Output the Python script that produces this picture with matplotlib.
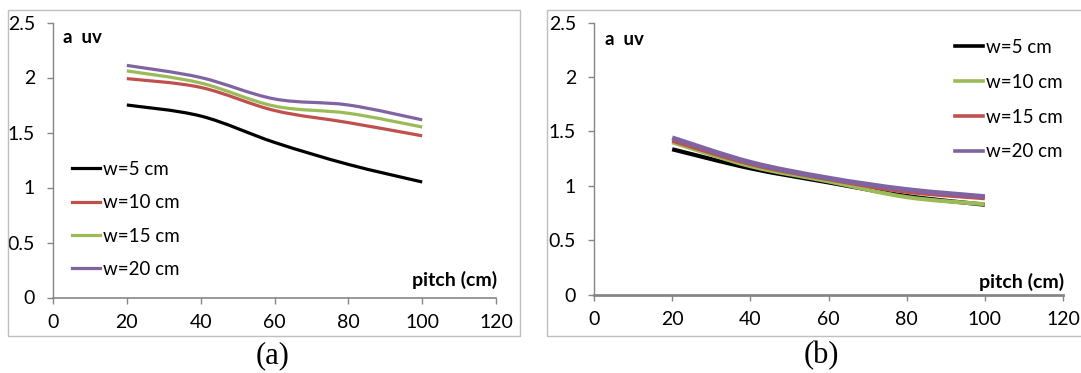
import numpy as np
import matplotlib
matplotlib.use("Agg")
import matplotlib.pyplot as plt
from matplotlib.path import Path
from matplotlib.patches import PathPatch, Rectangle
from matplotlib.lines import Line2D

# ---------------- data ----------------
pitch = [20, 40, 60, 80, 100]

labels_a = ["w=5 cm", "w=10 cm", "w=15 cm", "w=20 cm"]
a_w5 = [1.75, 1.65, 1.41, 1.21, 1.05]
a_w10 = [1.99, 1.91, 1.70, 1.59, 1.47]
a_w15 = [2.06, 1.95, 1.74, 1.675, 1.55]
a_w20 = [2.11, 2.00, 1.805, 1.75, 1.615]

labels_b = ["w=5 cm", "w=10 cm", "w=15 cm", "w=20 cm"]
b_w5 = [1.335, 1.16, 1.03, 0.905, 0.825]
b_w10 = [1.40, 1.18, 1.04, 0.895, 0.83]
b_w15 = [1.415, 1.20, 1.06, 0.945, 0.885]
b_w20 = [1.44, 1.215, 1.07, 0.965, 0.90]

x_ticks = [0, 20, 40, 60, 80, 100, 120]
y_ticks = [0, 0.5, 1, 1.5, 2, 2.5]
y_ticklabels = ["0", "0.5", "1", "1.5", "2", "2.5"]

RED = "#C0504D"
GREEN = "#9BBB59"
PURPLE = "#8064A2"
BLACK = "#000000"
AXGRAY = "#868686"

FONT = ["Lato", "DejaVu Sans"]
FS = 13.5
FS_TICK = 14

W, H = 1081, 373
fig = plt.figure(figsize=(W / 100, H / 100), dpi=100)


def smooth_path(xs, ys):
    """Excel-like smoothed line: cubic Bezier segments through the points."""
    P = np.column_stack([xs, ys]).astype(float)
    n = len(P)
    verts = [P[0]]
    codes = [Path.MOVETO]
    for i in range(n - 1):
        p0 = P[i - 1] if i > 0 else P[i]
        p1 = P[i]
        p2 = P[i + 1]
        p3 = P[i + 2] if i + 2 < n else P[i + 1]
        c1 = p1 + (p2 - p0) / 6.0
        c2 = p2 - (p3 - p1) / 6.0
        verts += [c1, c2, p2]
        codes += [Path.CURVE4] * 3
    return Path(verts, codes)


def px_axes(left, right, y0, ytop):
    return fig.add_axes([left / W, (H - y0) / H, (right - left) / W, (y0 - ytop) / H])


def style_axes(ax, xaxis_lw):
    ax.set_xlim(0, 120)
    ax.set_ylim(0, 2.5)
    for s in ["top", "right"]:
        ax.spines[s].set_visible(False)
    ax.spines["left"].set_color(AXGRAY)
    ax.spines["left"].set_linewidth(1.0)
    ax.spines["bottom"].set_color(AXGRAY)
    ax.spines["bottom"].set_linewidth(xaxis_lw)
    ax.set_xticks(x_ticks)
    ax.set_xticklabels([str(v) for v in x_ticks])
    ax.set_yticks(y_ticks)
    ax.set_yticklabels(y_ticklabels)
    ax.tick_params(axis="both", direction="out", length=4, width=1.0,
                   color=AXGRAY, labelsize=FS_TICK, labelcolor="black")
    ax.tick_params(axis="y", pad=9)
    ax.tick_params(axis="x", pad=8)
    for t in ax.get_xticklabels() + ax.get_yticklabels():
        t.set_family(FONT)
    ax.patch.set_alpha(0)


# frames
fig.patches.append(Rectangle((8 / W, (H - 336) / H), (520 - 8) / W, (336 - 10) / H,
                             transform=fig.transFigure, fill=False,
                             edgecolor="#BFBFBF", lw=1.0))
fig.patches.append(Rectangle((547 / W, (H - 336) / H), (1090 - 547) / W, (336 - 10) / H,
                             transform=fig.transFigure, fill=False,
                             edgecolor="#BFBFBF", lw=1.0))

# ---------------- panel (a) ----------------
ax1 = px_axes(53, 496, 297.5, 22.5)
style_axes(ax1, 1.2)
series_a = [(a_w5, BLACK), (a_w10, RED), (a_w15, GREEN), (a_w20, PURPLE)]
handles_a = []
for (ys, c), lab in zip(series_a, labels_a):
    ax1.add_patch(PathPatch(smooth_path(pitch, ys), fill=False, edgecolor=c,
                            lw=2.3, capstyle="butt", joinstyle="round"))
    handles_a.append(Line2D([], [], color=c, lw=2.3, label=lab))
leg1 = fig.legend(handles=handles_a, loc="upper left",
                  bbox_to_anchor=(72 / W, 1 - 161 / H), frameon=False,
                  prop={"family": FONT, "size": FS}, handlelength=1.5,
                  handletextpad=0.15, labelspacing=0.87, borderpad=0,
                  borderaxespad=0)
ax1.text(0.022, 0.947, "a  uv", transform=ax1.transAxes, fontsize=FS,
         fontweight="bold", family=FONT, ha="left", va="center")
ax1.text(1.002, 0.064, "pitch (cm)", transform=ax1.transAxes, fontsize=14,
         fontweight="bold", family=FONT, ha="right", va="center")

# ---------------- panel (b) ----------------
ax2 = px_axes(594, 1063, 294.5, 22.5)
style_axes(ax2, 2.0)
series_b = [(b_w5, BLACK, 3.0), (b_w10, GREEN, 3.0), (b_w15, RED, 3.0), (b_w20, PURPLE, 3.5)]
handles_b = []
for (ys, c, lw), lab in zip(series_b, labels_b):
    ax2.add_patch(PathPatch(smooth_path(pitch, ys), fill=False, edgecolor=c,
                            lw=lw, capstyle="butt", joinstyle="round"))
    handles_b.append(Line2D([], [], color=c, lw=2.6, label=lab))
leg2 = fig.legend(handles=handles_b, loc="upper left",
                  bbox_to_anchor=(955 / W, 1 - 39 / H), frameon=False,
                  prop={"family": FONT, "size": FS}, handlelength=1.5,
                  handletextpad=0.15, labelspacing=0.95, borderpad=0,
                  borderaxespad=0)
ax2.text(0.023, 0.936, "a  uv", transform=ax2.transAxes, fontsize=FS,
         fontweight="bold", family=FONT, ha="left", va="center")
ax2.text(1.002, 0.046, "pitch (cm)", transform=ax2.transAxes, fontsize=14,
         fontweight="bold", family=FONT, ha="right", va="center")

# captions
fig.text(273 / W, 1 - 356 / H, "(a)", fontsize=22, family="Liberation Serif",
         ha="center", va="center")
fig.text(821 / W, 1 - 356 / H, "(b)", fontsize=22, family="Liberation Serif",
         ha="center", va="center")

fig.savefig("out.png", dpi=100)
